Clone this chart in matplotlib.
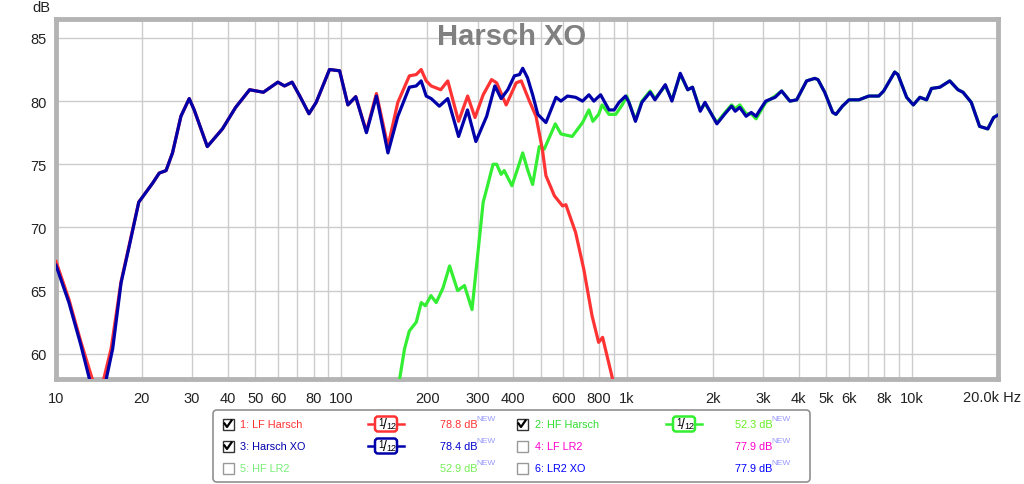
import matplotlib
matplotlib.use('Agg')
import matplotlib.pyplot as plt
from matplotlib.patches import Rectangle, FancyBboxPatch
from matplotlib.lines import Line2D

plt.rcParams['font.family'] = ['Liberation Sans', 'DejaVu Sans']

# 3: Harsch XO (blue)
xo_f = [10, 11.1, 12.2, 13.1, 14.0, 15.0, 15.8, 16.9, 18.05, 19.5, 21.8, 23.0, 24.3, 25.6, 27.4,
        29.3, 30.5, 33.9, 38.3, 42.6, 47.7, 53.3, 59.9, 63.2, 67.2, 71.5, 77.0, 81.6, 90.9, 98.6,
        105.4, 112.3, 122.4, 132.7, 145.6, 157.7, 173.1, 182.9, 190.4, 198.3, 206.4, 220.5, 236,
        257.5, 276.7, 296, 323, 345, 363, 383, 404, 421, 432, 449, 468, 488, 521, 565, 588, 620,
        662, 700, 737, 767, 810, 867, 903, 940, 991, 1018, 1073, 1130, 1208, 1256, 1365, 1440,
        1540, 1636, 1700, 1810, 1880, 2070, 2210, 2330, 2400, 2490, 2620, 2730, 2840, 2910, 3070,
        3310, 3490, 3730, 3940, 4270, 4560, 4680, 4940, 5270, 5410, 5700, 6010, 6510, 7050, 7640,
        7950, 8690, 8920, 9570, 10100, 10650, 11240, 11690, 12510, 13550, 14480, 15080, 16120,
        17240, 18420, 19300, 20000]
xo_db = [67.0, 64.05, 60.75, 58.0, 55.5, 58.0, 60.4, 65.6, 68.5, 72.0, 73.5, 74.3, 74.5, 75.9, 78.8,
         80.2, 79.3, 76.4, 77.8, 79.5, 80.9, 80.7, 81.5, 81.2, 81.5, 80.4, 79.0, 79.9, 82.5, 82.4,
         79.7, 80.35, 77.5, 80.4, 75.9, 78.8, 81.1, 81.2, 81.6, 80.4, 80.2, 79.6, 80.2,
         77.2, 79.3, 76.8, 78.8, 81.2, 80.2, 80.9, 82.0, 82.1, 82.6, 81.85, 80.5, 78.95, 78.3, 80.3,
         80.0, 80.4, 80.3, 80.0, 80.5, 80.0, 80.5, 79.3, 79.3, 79.9, 80.4, 79.9, 78.4, 79.9, 80.7,
         80.1, 81.3, 80.0, 82.2, 80.9, 81.1, 79.2, 79.9, 78.2, 79.0, 79.6, 79.2, 79.5, 78.8, 79.1,
         78.8, 79.2, 80.0, 80.3, 80.8, 80.0, 80.1, 81.6, 81.8, 81.7, 80.7, 79.1, 78.95, 79.6, 80.1,
         80.1, 80.4, 80.4, 80.8, 82.3, 82.1, 80.3, 79.7, 80.3, 80.1, 81.0, 81.1, 81.6, 80.9, 80.7,
         79.9, 78.0, 77.8, 78.7, 78.9]

# 1: LF Harsch (red)
lf_f = [10, 11.1, 12.2, 13.4, 14.0, 14.7, 15.6, 16.9, 18.05, 19.5, 21.8, 23.0, 24.3, 25.6, 27.4,
        29.3, 30.5, 33.9, 38.3, 42.6, 47.7, 53.3, 59.9, 63.2, 67.2, 71.5, 77.0, 81.6, 90.9, 98.6,
        105.4, 112.3, 122.4, 132.7, 145.6, 157.7, 173.1, 182.9, 190.4, 198.3, 206.4, 223, 236,
        257.5, 277, 294, 314, 336, 350, 378, 410, 427, 456, 481, 506, 521, 558, 596, 612, 662,
        707, 756, 797, 823, 890, 950]
lf_db = [67.3, 64.3, 61.0, 58.0, 56.0, 58.0, 60.4, 65.7, 68.6, 72.0, 73.5, 74.3, 74.5, 75.9, 78.8,
         80.2, 79.3, 76.4, 77.8, 79.5, 80.9, 80.7, 81.5, 81.2, 81.5, 80.4, 79.0, 79.9, 82.5, 82.4,
         79.7, 80.35, 77.6, 80.6, 76.4, 79.9, 82.0, 82.1, 82.5, 81.6, 81.2, 80.9, 81.6,
         78.4, 80.4, 78.7, 80.5, 81.7, 81.45, 79.7, 81.45, 81.6, 80.0, 78.8, 76.2, 74.1, 72.5, 71.7,
         71.8, 69.6, 66.7, 63.0, 60.9, 61.3, 58.1, 55.0]

# 2: HF Harsch (green)
hf_f = [150, 160, 166.5, 173, 183, 190.5, 197, 206, 215, 227, 239.5, 255.5, 270, 287, 300, 314,
        327, 340, 350, 363, 372, 396, 414, 432, 449, 468, 494, 514, 562, 588, 644, 700, 737, 761,
        797, 820, 867, 915, 964, 1000, 1073, 1130, 1208, 1256, 1365, 1440, 1540, 1636, 1700,
        1810, 1880, 2070, 2210, 2330, 2400, 2490, 2620, 2730, 2840, 2910, 3070, 3310, 3490, 3730,
        3940, 4270, 4560, 4680, 4940, 5270, 5410, 5700, 6010, 6510, 7050, 7640, 7950, 8690, 8920,
        9570, 10100, 10650, 11240, 11690, 12510, 13550, 14480, 15080, 16120, 17240, 18420, 19300,
        20000]
hf_db = [55.0, 58.0, 60.4, 61.8, 62.5, 64.05, 63.8, 64.6, 64.05, 65.2, 66.95, 65.0, 65.4, 63.5,
         67.7, 72.0, 73.5, 75.0, 75.0, 74.2, 74.5, 73.3, 74.6, 75.9, 74.6, 73.4, 76.4, 76.2, 78.2,
         77.4, 77.2, 78.3, 79.3, 78.4, 78.95, 79.7, 78.95, 78.95, 79.7, 80.4, 78.5, 80.0, 80.8,
         80.2, 81.2, 80.1, 82.1, 80.9, 81.1, 79.3, 79.8, 78.3, 79.1, 79.7, 79.4, 79.7, 79.0, 79.0,
         78.6, 79.0, 79.9, 80.4, 80.8, 80.0, 80.1, 81.6, 81.8, 81.7, 80.7, 79.1, 78.95, 79.6, 80.1,
         80.1, 80.4, 80.4, 80.8, 82.3, 82.1, 80.3, 79.7, 80.3, 80.1, 81.0, 81.1, 81.6, 80.9, 80.7,
         79.9, 78.0, 77.8, 78.7, 78.9]

grid_freqs = [10, 20, 30, 40, 50, 60, 70, 80, 90, 100, 200, 300, 400, 500, 600, 700, 800, 900,
              1000, 2000, 3000, 4000, 5000, 6000, 7000, 8000, 9000, 10000, 20000]
grid_labels = ['10', '20', '30', '40', '50', '60', '', '80', '', '100', '200', '300', '400', '',
               '600', '', '800', '', '1k', '2k', '3k', '4k', '5k', '6k', '', '8k', '', '10k', '']
y_ticks = [60, 65, 70, 75, 80, 85]

legend_labels = ['1: LF Harsch', '2: HF Harsch', '3: Harsch XO', '4: LF LR2', '5: HF LR2', '6: LR2 XO']
legend_values = ['78.8 dB', '52.3 dB', '78.4 dB', '77.9 dB', '52.9 dB', '77.9 dB']
legend_checked = [True, True, True, False, False, False]
legend_colors = ['#ff3333', '#33dd33', '#0000aa', '#ff00cc', '#77ee77', '#0000ff']
value_colors = ['#ff3333', '#66ee22', '#0000cc', '#ff00cc', '#77ee55', '#0000ff']
line_colors = ['#ff3333', '#33ee33', '#0000aa']

fig = plt.figure(figsize=(10.24, 4.85), dpi=100)
W, H = 1024, 485
ax = fig.add_axes([56 / W, 1 - 380 / H, (998 - 56) / W, (380 - 20) / H])
ax.set_xscale('log')
ax.set_xlim(10, 20000)
ax.set_ylim(58, 86.5)

ax.plot(hf_f, hf_db, color=line_colors[1], lw=2.3, solid_joinstyle='round', zorder=3)
ax.plot(lf_f, lf_db, color=line_colors[0], lw=2.3, solid_joinstyle='round', zorder=4)
ax.plot(xo_f, xo_db, color=line_colors[2], lw=2.3, solid_joinstyle='round', zorder=5)

ax.set_xticks(grid_freqs)
ax.set_xticklabels(grid_labels)
ax.xaxis.set_minor_locator(matplotlib.ticker.NullLocator())
ax.set_yticks(y_ticks)
ax.tick_params(length=0, labelsize=10.5, colors='#222222')
ax.tick_params(axis='x', pad=9)
ax.tick_params(axis='y', pad=7)
ax.grid(True, color='#cccccc', lw=1)
ax.set_axisbelow(True)
for s in ax.spines.values():
    s.set_color('#b4b4b4')
    s.set_linewidth(3.5)

# overlay in pixel coords for texts and the legend
ov = fig.add_axes([0, 0, 1, 1])
ov.set_xlim(0, W)
ov.set_ylim(H, 0)
ov.axis('off')

ov.text(512, 37, 'Harsch XO', fontsize=21, fontweight='bold', color='#808080', ha='center', va='center')
ov.text(41, 8, 'dB', fontsize=10.5, color='#222222', ha='center', va='center')
ov.text(1021, 398, '20.0k Hz', fontsize=10.5, color='#222222', ha='right', va='center')

ov.add_patch(FancyBboxPatch((213, 411), 597, 72, boxstyle='round,pad=0,rounding_size=4',
                            fc='white', ec='#909090', lw=1.2))

rows = [425, 447, 469]
cols = [(228, 240, 386, 440, 476), (522, 535, 684, 735, 771)]
for i, lab in enumerate(legend_labels):
    r, c = i // 2, i % 2
    y = rows[r]
    cb, lx, ix, vx, nx = cols[c]
    ec = '#333333' if legend_checked[i] else '#999999'
    ov.add_patch(Rectangle((cb - 5.5, y - 5.5), 11, 11, fc='white', ec=ec, lw=1))
    if legend_checked[i]:
        ov.add_line(Line2D([cb - 3.5, cb - 1, cb + 3.5], [y - 0.5, y + 3, y - 3.5], color='black', lw=1.6))
    ov.text(lx, y, lab, fontsize=7.8, color=legend_colors[i], va='center', ha='left')
    if legend_checked[i]:
        fc = line_colors[i if i < 2 else 2]
        ov.add_line(Line2D([ix - 18, ix + 18], [y, y], color=fc, lw=1.8))
        ov.add_patch(FancyBboxPatch((ix - 11, y - 7.5), 22, 15, boxstyle='round,pad=0,rounding_size=3',
                                    fc='white', ec=fc, lw=1.8, zorder=3))
        ov.text(ix - 5, y - 2, '1', fontsize=7, color='black', ha='center', va='center', zorder=4)
        ov.text(ix - 1, y, '/', fontsize=10, color='black', ha='center', va='center', zorder=4)
        ov.text(ix + 5, y + 2, '12', fontsize=6.5, color='black', ha='center', va='center', zorder=4)
    ov.text(vx, y, legend_values[i], fontsize=7.8, color=value_colors[i], va='center', ha='left')
    ov.text(nx, y - 5, 'NEW', fontsize=6, color='#9999ff', va='center', ha='left')

fig.savefig('out.png', dpi=100)
